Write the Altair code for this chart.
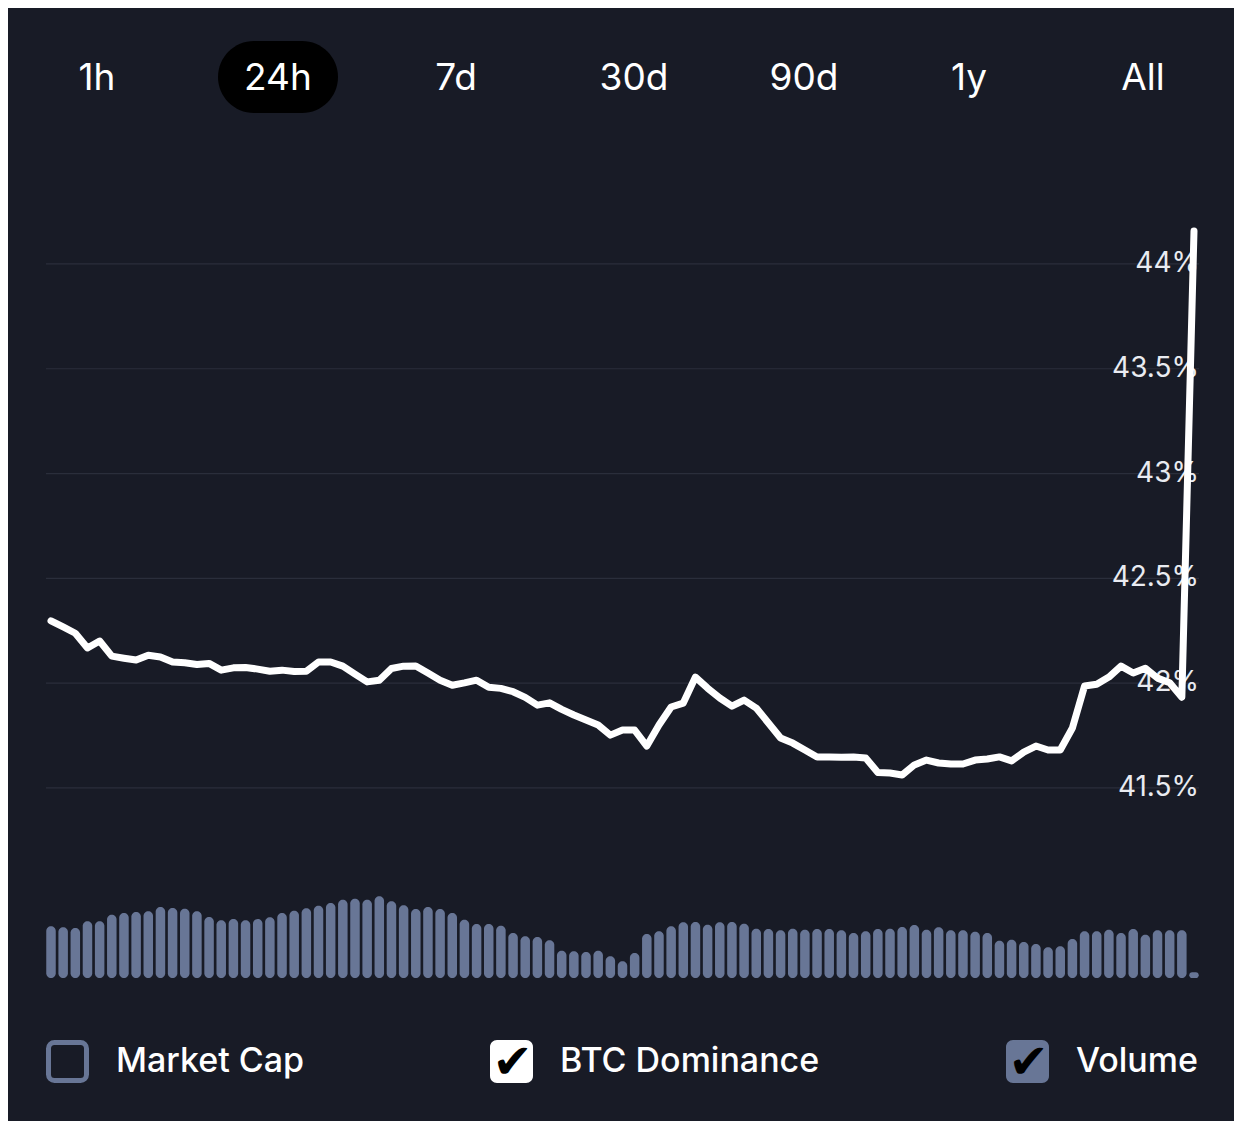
import altair as alt
import pandas as pd

# ---------------- data ----------------
tabs = ["1h", "24h", "7d", "30d", "90d", "1y", "All"]
selected_tab = "24h"

# BTC dominance (%) for the last 24h, 15-minute steps
dominance = [
    42.297, 42.268, 42.238, 42.168, 42.201, 42.129, 42.119, 42.110, 42.133, 42.125,
    42.101, 42.097, 42.089, 42.094, 42.062, 42.073, 42.075, 42.067, 42.057, 42.062,
    42.056, 42.057, 42.101, 42.101, 42.081, 42.043, 42.006, 42.014, 42.070, 42.081,
    42.082, 42.048, 42.014, 41.990, 42.001, 42.014, 41.980, 41.975, 41.959, 41.932,
    41.895, 41.906, 41.875, 41.848, 41.824, 41.800, 41.752, 41.776, 41.776, 41.700,
    41.800, 41.886, 41.905, 42.029, 41.976, 41.929, 41.890, 41.919, 41.881, 41.810,
    41.738, 41.714, 41.681, 41.648, 41.648, 41.646, 41.648, 41.643, 41.574, 41.571,
    41.562, 41.610, 41.633, 41.619, 41.614, 41.614, 41.633, 41.638, 41.648, 41.629,
    41.671, 41.700, 41.681, 41.681, 41.786, 41.986, 41.995, 42.029, 42.081, 42.048,
    42.071, 42.024, 42.002, 41.933, 44.157,
]

# relative traded volume per step (arbitrary units)
volume = [
    51.7, 50.7, 50.0, 56.7, 56.7, 63.3, 65.0, 66.0, 66.7, 71.0,
    70.0, 69.3, 66.7, 61.0, 57.7, 59.0, 57.7, 59.0, 60.7, 65.0,
    67.3, 69.7, 72.3, 75.0, 78.3, 79.3, 78.3, 81.7, 76.7, 72.7,
    69.0, 71.0, 69.0, 65.0, 58.3, 54.0, 54.0, 52.3, 45.0, 41.7,
    41.0, 37.7, 27.3, 26.7, 26.0, 27.3, 21.7, 16.7, 25.0, 44.0,
    46.7, 51.7, 55.7, 56.0, 53.3, 55.7, 56.0, 54.3, 49.3, 49.0,
    47.7, 49.3, 48.3, 49.0, 49.0, 47.7, 45.0, 46.7, 49.0, 49.3,
    51.0, 53.0, 48.3, 50.7, 47.7, 47.7, 46.3, 45.0, 37.3, 38.3,
    36.0, 34.0, 30.7, 31.7, 39.0, 46.7, 46.7, 48.3, 45.0, 49.0,
    43.3, 47.7, 47.7, 47.7, 5.7,
]

y_ticks = [41.5, 42.0, 42.5, 43.0, 43.5, 44.0]
tick_labels = ["41.5%", "42%", "42.5%", "43%", "43.5%", "44%"]

legend_items = ["Market Cap", "BTC Dominance", "Volume"]
legend_checked = [False, True, True]

# ---------------- layout / style ----------------
BG = "#181b26"
GRID = "#2a2e3b"
BAR = "#687696"
W, H = 1153, 790
PAD = {"left": 38, "top": 192, "right": 35, "bottom": 131}
FONT = "Inter"

tab_x = [51, 232, 410, 588, 758, 923, 1097]
tab_y = -121
pill = (172, 292, -159, -87)

box_left = [0, 444, 960]
box_size = 43
box_top = 840
text_dx = 70

# ---------------- frames ----------------
df = pd.DataFrame({"i": list(range(len(dominance))), "dom": dominance, "vol": volume})
ticks_df = pd.DataFrame({"v": y_ticks, "label": tick_labels})

xscale = alt.Scale(domain=[0, len(dominance) - 1], nice=False, zero=False)
yscale = alt.Scale(domain=[40.536, 44.305], nice=False, zero=False)
vscale = alt.Scale(domain=[-12, 778], nice=False, zero=False)

grid = alt.Chart(ticks_df).mark_rule(color=GRID, strokeWidth=1.2).encode(
    y=alt.Y("v:Q", scale=yscale, axis=None)
)

labels = alt.Chart(ticks_df).mark_text(
    align="right", baseline="middle", font=FONT, fontSize=28, color="#e9ebf1"
).encode(
    y=alt.Y("v:Q", scale=yscale, axis=None),
    x=alt.value(W),
    text="label:N",
)

bars = alt.Chart(df).mark_bar(
    color=BAR, size=9.5, cornerRadius=4.75, clip=True, orient="vertical"
).encode(
    x=alt.X("i:Q", scale=xscale, axis=None),
    y=alt.Y("vol:Q", scale=vscale, axis=None, stack=None),
)

line = alt.Chart(df).mark_line(
    color="white", strokeWidth=7, strokeJoin="round", strokeCap="round"
).encode(
    x=alt.X("i:Q", scale=xscale, axis=None),
    y=alt.Y("dom:Q", scale=yscale, axis=None),
)

layers = [grid, labels, bars, line]

# tab bar
layers.append(
    alt.Chart(pd.DataFrame({"t": [selected_tab]})).mark_rect(
        color="black", cornerRadius=36
    ).encode(
        x=alt.value(pill[0]), x2=alt.value(pill[1]),
        y=alt.value(pill[2]), y2=alt.value(pill[3]),
    )
)
for t, cx in zip(tabs, tab_x):
    layers.append(
        alt.Chart(pd.DataFrame({"t": [t]})).mark_text(
            align="center", baseline="middle", font=FONT, fontSize=37, color="white"
        ).encode(x=alt.value(cx), y=alt.value(tab_y), text="t:N")
    )

# legend checkboxes
for name, checked, bx in zip(legend_items, legend_checked, box_left):
    cdf = pd.DataFrame({"t": [name]})
    if not checked:
        layers.append(
            alt.Chart(cdf).mark_rect(
                filled=False, stroke=BAR, strokeWidth=5, cornerRadius=6
            ).encode(
                x=alt.value(bx + 2.5), x2=alt.value(bx + box_size - 2.5),
                y=alt.value(box_top + 2.5), y2=alt.value(box_top + box_size - 2.5),
            )
        )
    else:
        fill = "white" if name == "BTC Dominance" else BAR
        layers.append(
            alt.Chart(cdf).mark_rect(color=fill, cornerRadius=7).encode(
                x=alt.value(bx), x2=alt.value(bx + box_size),
                y=alt.value(box_top), y2=alt.value(box_top + box_size),
            )
        )
        layers.append(
            alt.Chart(cdf).mark_text(
                text="\u2714", font="DejaVu Sans", fontSize=48, color="black",
                align="center", baseline="middle",
            ).encode(
                x=alt.value(bx + box_size / 2 + 1), y=alt.value(box_top + box_size / 2 + 2)
            )
        )
    layers.append(
        alt.Chart(cdf).mark_text(
            align="left", baseline="middle", font=FONT, fontSize=34,
            fontWeight=500, color="white",
        ).encode(
            x=alt.value(bx + text_dx), y=alt.value(box_top + box_size / 2), text="t:N"
        )
    )

chart = (
    alt.layer(*layers)
    .resolve_scale(y="independent")
    .properties(
        width=W, height=H, padding=PAD,
        autosize=alt.AutoSizeParams(type="none"),
        background=BG,
    )
    .configure_view(stroke=None)
)

chart.save("out.html", embed_options={"renderer": "svg", "actions": False})
